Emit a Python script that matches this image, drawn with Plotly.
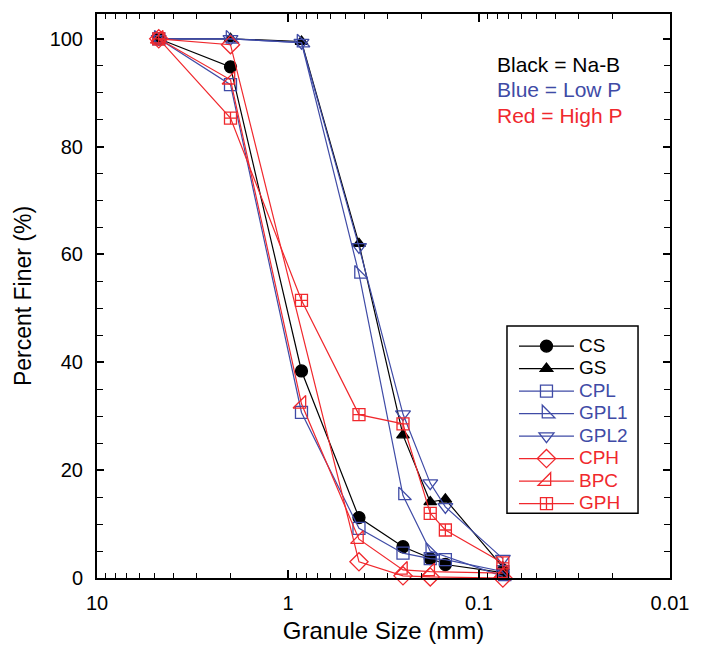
import plotly.graph_objects as go

# Sieve sizes (mm)
sizes = [4.75, 2.0, 0.85, 0.425, 0.25, 0.18, 0.15, 0.075]

cs_x = [4.75, 2.0, 0.85, 0.425, 0.25, 0.18, 0.15, 0.075]
cs_y = [100, 94.8, 38.4, 11.2, 5.8, 3.6, 2.5, 1.0]

gs_x = [4.75, 2.0, 0.85, 0.425, 0.25, 0.18, 0.15, 0.075]
gs_y = [100, 100, 99.5, 62.0, 26.5, 14.1, 14.6, 2.0]

cpl_x = [4.75, 2.0, 0.85, 0.425, 0.25, 0.18, 0.15, 0.075]
cpl_y = [100, 91.5, 30.7, 9.2, 4.6, 3.6, 3.4, 1.2]

gpl1_x = [4.75, 2.0, 0.85, 0.425, 0.25, 0.18, 0.075]
gpl1_y = [100, 100, 99.3, 56.4, 15.3, 5.0, 0.3]

gpl2_x = [4.75, 2.0, 0.85, 0.425, 0.25, 0.18, 0.15, 0.075]
gpl2_y = [100, 100, 99.3, 61.4, 30.4, 17.6, 13.2, 3.6]

cph_x = [4.75, 2.0, 0.425, 0.25, 0.18, 0.075]
cph_y = [100, 98.9, 3.0, 0.4, 0.2, 0.0]

bpc_x = [4.75, 2.0, 0.85, 0.425, 0.25, 0.18, 0.075]
bpc_y = [100, 92.4, 32.3, 7.2, 1.5, 1.2, 0.9]

gph_x = [4.75, 2.0, 0.85, 0.425, 0.25, 0.18, 0.15, 0.075]
gph_y = [100, 85.3, 51.5, 30.3, 28.6, 12.0, 8.9, 2.8]

x_tickvals = [10, 1, 0.1, 0.01]
x_ticktext = ["10", "1", "0.1", "0.01"]
y_tickvals = [0, 20, 40, 60, 80, 100]

BLACK = "#000000"
BLUE = "#3f4ba6"
RED = "#f0282d"
FONT = "Liberation Sans, Arial, sans-serif"

series = [
    ("CS", cs_x, cs_y, BLACK, "circle", 12),
    ("GS", gs_x, gs_y, BLACK, "triangle-up", 11),
    ("CPL", cpl_x, cpl_y, BLUE, "square-open", 12),
    ("GPL1", gpl1_x, gpl1_y, BLUE, "triangle-sw-open", 14),
    ("GPL2", gpl2_x, gpl2_y, BLUE, "triangle-down-open", 13),
    ("CPH", cph_x, cph_y, RED, "diamond-open", 14),
    ("BPC", bpc_x, bpc_y, RED, "triangle-se-open", 14),
    ("GPH", gph_x, gph_y, RED, "square-cross-open", 12),
]

fig = go.Figure()
for name, xs, ys, col, sym, sz in series:
    fig.add_trace(go.Scatter(
        x=xs, y=ys, mode="lines+markers",
        name=f"<span style='color:{col};font-size:19px'>{name}</span>",
        line=dict(color=col, width=1.2),
        marker=dict(symbol=sym, size=sz, color=col, line=dict(color=col, width=1.3)),
        cliponaxis=False,
    ))

minor_x = [k * 10 ** e for e in (-2, -1, 0) for k in range(2, 10)]

fig.update_layout(
    width=702, height=654,
    margin=dict(l=97, r=32, t=12, b=76),
    paper_bgcolor="white", plot_bgcolor="white",
    font=dict(family=FONT, size=19, color="black"),
    showlegend=True,
    legend=dict(
        x=0.7277, y=0.440, xanchor="left", yanchor="top",
        borderwidth=0, bgcolor="rgba(0,0,0,0)",
        font=dict(family=FONT, size=15),
        itemwidth=55, tracegroupgap=0,
    ),
    shapes=[
        dict(type="rect", xref="paper", yref="paper",
             x0=0.7155, x1=0.9442, y0=0.115, y1=0.447,
             line=dict(color="black", width=1.5), fillcolor="white", layer="below"),
    ],
    xaxis=dict(
        type="log", range=[1, -2],
        tickmode="array", tickvals=x_tickvals, ticktext=x_ticktext,
        ticks="inside", ticklen=8, tickwidth=1.5, tickcolor="black",
        minor=dict(tickvals=minor_x, ticks="inside", ticklen=5, tickwidth=1.2, tickcolor="black"),
        showline=True, linecolor="black", linewidth=2, mirror="ticks",
        showgrid=False, zeroline=False,
        tickfont=dict(size=20),
        ticklabelstandoff=6,
        title=dict(text="Granule Size (mm)", font=dict(size=24), standoff=9),
    ),
    yaxis=dict(
        range=[0, 104.6],
        tickmode="array", tickvals=y_tickvals,
        ticks="inside", ticklen=7, tickwidth=1.5, tickcolor="black",
        minor=dict(dtick=5, ticks="inside", ticklen=6, tickwidth=1.2, tickcolor="black"),
        showline=True, linecolor="black", linewidth=2, mirror="ticks",
        showgrid=False, zeroline=False,
        tickfont=dict(size=20),
        ticklabelstandoff=8,
        title=dict(text="Percent Finer (%)", font=dict(size=23), standoff=12),
    ),
    annotations=[
        dict(x=0.6946, y=0.911, xref="paper", yref="paper", xanchor="left", yanchor="middle",
             text="Black = Na-B", showarrow=False, font=dict(size=21, color=BLACK)),
        dict(x=0.6946, y=0.867, xref="paper", yref="paper", xanchor="left", yanchor="middle",
             text="Blue = Low P", showarrow=False, font=dict(size=21, color=BLUE)),
        dict(x=0.6946, y=0.8195, xref="paper", yref="paper", xanchor="left", yanchor="middle",
             text="Red = High P", showarrow=False, font=dict(size=21, color=RED)),
    ],
)

fig.write_html("out.html")
